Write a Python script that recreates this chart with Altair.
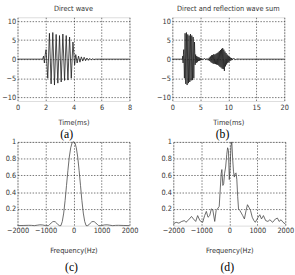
import altair as alt
import pandas as pd

NARROW = "Liberation Sans Narrow, DejaVu Sans Condensed, Arial Narrow, sans-serif"
SERIF = "Liberation Serif, Times New Roman, serif"

# ---- direct wave: quiet lead-in, tone burst (half-cycle peaks), decaying ripple
lead_t = [0.0, 1.80, 1.86, 1.92, 1.98]
lead_v = [0.0, 0.0, 0.8, -1.0, 1.2]

burst_t0, burst_dt = 2.04, 0.12
burst_v = [2.5, -5.0, 6.8, -6.5, 7.0, -6.8, 6.5, -6.3, 6.2, -6.0,
           6.6, -5.6, 6.2, -5.5, 5.8, -5.0, 4.5, -1.5]

tail_t0, tail_dt = 4.16, 0.1
tail_v = [1.2, -1.0, 0.8, -0.8, 0.6, -0.5, 0.5, -0.4, 0.3, -0.3,
          0.2, -0.2, 0.1, -0.1, 0.0]

# ---- reflected wave arriving later, weaker and spread out
refl_lead_t = [5.8, 6.0, 6.2, 6.4]
refl_lead_v = [0.2, -0.2, 0.2, -0.3]
refl_t0, refl_dt = 6.6, 0.1
refl_v = [0.4, -0.5, 0.7, -0.8, 1.0, -1.0, 1.1, -1.2, 1.3, -1.2,
          1.2, -1.3, 1.4, -1.4, 1.6, -1.5, 1.8, -1.7, 2.1, -2.0,
          2.4, -2.2, 2.7, -2.5, 2.9, -2.6, 2.5, -3.1, 2.0, -1.9,
          1.6, -1.4, 1.2, -1.0, 0.9, -0.8, 0.6, -0.5, 0.4, -0.3,
          0.3, -0.2, 0.1]
refl_tail_t = [11.0, 11.3, 11.6, 12.0]
refl_tail_v = [0.15, -0.1, 0.05, 0.0]

# ---- magnitude spectra (normalised)
spec_c_f = [-2000, -1800, -1600, -1500, -1400, -1300, -1200, -1100, -1000, -950,
            -900, -850, -800, -750, -700, -650, -600, -550, -500, -450,
            -400, -350, -300, -250, -200, -150, -100, -50, -20, 0,
            20, 50, 100, 150, 200, 250, 300, 350, 400, 450,
            500, 550, 600, 650, 700, 750, 800, 850, 900, 950,
            1000, 1100, 1200, 1300, 1400, 1500, 1600, 1800, 2000]
spec_c_m = [0.0, 0.002, 0.004, 0.003, 0.0, 0.005, 0.01, 0.008, 0.0, 0.0,
            0.0, 0.015, 0.03, 0.045, 0.05, 0.045, 0.03, 0.01, 0.0, 0.0,
            0.05, 0.15, 0.30, 0.48, 0.66, 0.82, 0.93, 0.99, 1.0, 1.0,
            1.0, 0.99, 0.93, 0.82, 0.66, 0.48, 0.30, 0.15, 0.05, 0.0,
            0.0, 0.01, 0.03, 0.045, 0.05, 0.045, 0.03, 0.015, 0.0, 0.0,
            0.0, 0.008, 0.01, 0.005, 0.0, 0.003, 0.004, 0.002, 0.0]

spec_d_f = [-2000, -1900, -1800, -1700, -1600, -1550, -1450, -1350, -1280, -1200,
            -1130, -1050, -950, -880, -820, -760, -700, -640, -590, -520,
            -470, -400, -360, -320, -290, -265, -230, -200, -170, -130,
            -90, -60, -30, 0, 30, 60, 90, 120, 150, 180,
            210, 240, 270, 300, 330, 380, 430, 480, 540, 600,
            650, 700, 760, 820, 880, 930, 980, 1030, 1090, 1150,
            1220, 1300, 1380, 1450, 1550, 1650, 1720, 1780, 1850, 1920, 2000]
spec_d_m = [0.02, 0.04, 0.03, 0.05, 0.06, 0.04, 0.07, 0.11, 0.08, 0.05,
            0.12, 0.06, 0.04, 0.12, 0.17, 0.10, 0.12, 0.20, 0.19, 0.05,
            0.18, 0.21, 0.23, 0.45, 0.62, 0.67, 0.48, 0.50, 0.62, 0.70,
            0.85, 0.93, 0.90, 0.55, 0.70, 0.95, 1.00, 0.80, 0.65, 0.58,
            0.62, 0.63, 0.55, 0.35, 0.20, 0.18, 0.15, 0.12, 0.08, 0.18,
            0.25, 0.22, 0.18, 0.10, 0.06, 0.04, 0.07, 0.10, 0.13, 0.08,
            0.12, 0.06, 0.05, 0.07, 0.04, 0.08, 0.09, 0.05, 0.07, 0.04, 0.02]


def series(t0, dt, vals):
    return [round(t0 + i * dt, 4) for i in range(len(vals))]


direct_t = lead_t + series(burst_t0, burst_dt, burst_v) + series(tail_t0, tail_dt, tail_v)
direct_v = lead_v + burst_v + tail_v

df_a = pd.DataFrame({"t": direct_t + [8.0], "v": direct_v + [0.0]})
sum_t = (direct_t + refl_lead_t + series(refl_t0, refl_dt, refl_v)
         + refl_tail_t + [20.0])
sum_v = direct_v + refl_lead_v + refl_v + refl_tail_v + [0.0]
df_b = pd.DataFrame({"t": sum_t, "v": sum_v})
df_c = pd.DataFrame({"f": spec_c_f, "m": spec_c_m})
df_d = pd.DataFrame({"f": spec_d_f, "m": spec_d_m})

W, H = 115, 86
FS = 7.5


def axis(values, fmt, title=None, label_pad=2, title_pad=2):
    kw = dict(values=values, grid=True, ticks=False, domain=False, format=fmt,
              labelFont=NARROW, labelFontSize=FS, labelColor="#333",
              labelPadding=label_pad, gridColor="#000", gridDash=[1.5, 1.5],
              gridWidth=0.6, gridOpacity=0.9, labelFlush=False)
    if title is not None:
        kw.update(title=title, titleFont=NARROW, titleFontSize=FS,
                  titleFontWeight="normal", titleColor="#333",
                  titlePadding=title_pad)
    else:
        kw.update(title=None)
    return alt.Axis(**kw)


def tag_title(tag, offset):
    return alt.TitleParams(tag, orient="bottom", anchor="middle", font=SERIF,
                           fontSize=12, fontWeight="normal", color="#000",
                           offset=offset)


def wave(df, xmax, xticks, top_title, tag):
    c = alt.Chart(df).mark_line(color="#1a1a1a", strokeWidth=0.8).encode(
        x=alt.X("t:Q", scale=alt.Scale(domain=[0, xmax], nice=False, zero=False),
                axis=axis(xticks, "d", "Time(ms)", label_pad=3, title_pad=8)),
        y=alt.Y("v:Q", scale=alt.Scale(domain=[-11, 11], nice=False),
                axis=axis([-10, -5, 0, 5, 10], "d", label_pad=2)),
    ).properties(width=W, height=H,
                 title=alt.TitleParams(top_title, font=NARROW, fontSize=FS,
                                       fontWeight="normal", color="#333",
                                       offset=5))
    return alt.vconcat(c, title=tag_title(tag, 2))


def spectrum(df, tag, xtitle):
    c = alt.Chart(df).mark_line(color="#444", strokeWidth=0.8).encode(
        x=alt.X("f:Q", scale=alt.Scale(domain=[-2000, 2000], nice=False),
                axis=axis([-2000, -1000, 0, 1000, 2000], "d", xtitle,
                          label_pad=1, title_pad=13)),
        y=alt.Y("m:Q", scale=alt.Scale(domain=[0, 1], nice=False),
                axis=axis([0.2, 0.4, 0.6, 0.8, 1], ".1~f", label_pad=2)),
    ).properties(width=W, height=H)
    return alt.vconcat(c, title=tag_title(tag, 8))


top = alt.hconcat(wave(df_a, 8, [0, 2, 4, 6, 8], "Direct wave", "(a)"),
                  wave(df_b, 20, [0, 5, 10, 15, 20],
                       "Direct and reflection wave sum", "(b)"),
                  spacing=24)
bottom = alt.hconcat(spectrum(df_c, "(c)", "Frequency(Hz)"),
                     spectrum(df_d, "(d)", "Frequency(Hz)"),
                     spacing=21)

chart = alt.vconcat(top, bottom, spacing=-3).properties(
    padding={"left": 1, "top": 0, "right": 0, "bottom": 0}
).configure_view(stroke="#444", strokeWidth=1).configure(background="white")

chart.save("out.html", embed_options={"renderer": "svg", "actions": False})
